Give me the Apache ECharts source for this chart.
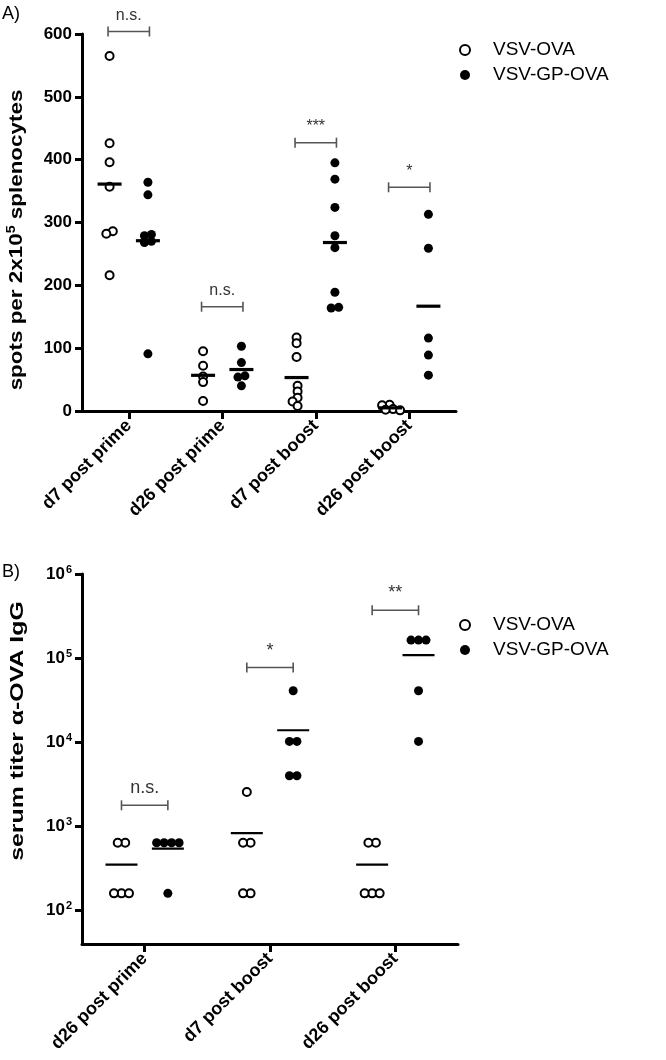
<!DOCTYPE html>
<html><head><meta charset="utf-8">
<script src="https://cdn.jsdelivr.net/npm/echarts@6/dist/echarts.min.js"></script>
<style>html,body{margin:0;padding:0;background:#fff}#c{width:666px;height:1060px}</style>
</head><body><div id="c"></div>
<script>
// ---------- data ----------
const seriesNames = ['VSV-OVA', 'VSV-GP-OVA'];
// Panel A: ELISpot
const catsA = ['d7 post prime', 'd26 post prime', 'd7 post boost', 'd26 post boost'];
const yTicksA = [0, 100, 200, 300, 400, 500, 600];
const ovaA = [[565, 426, 396, 357, 286, 282, 216], [95, 72, 55, 46, 16], [117, 108, 86, 40, 31, 21, 15, 8], [10, 9, 3, 2, 1]];
const gpA = [[364, 344, 281, 279, 270, 268, 91], [103, 77, 56, 54, 40], [395, 369, 324, 279, 260, 189, 165, 164], [313, 259, 116, 89, 57]];
const sigA = ['n.s.', 'n.s.', '***', '*'];
const sigLevelA = [604, 166, 427, 356];
// Panel B: serum titer
const catsB = ['d26 post prime', 'd7 post boost', 'd26 post boost'];
const yTicksB = [100, 1000, 10000, 100000, 1000000];
const ovaB = [[640, 640, 160, 160, 160], [2560, 640, 640, 160, 160], [640, 640, 160, 160, 160]];
const gpB = [[640, 640, 640, 640, 160], [40960, 10240, 10240, 4000, 4000], [163840, 163840, 163840, 40960, 10240]];
const sigB = ['n.s.', '*', '**'];
const sigLevelB = [1780, 77300, 370500];

// ---------- helpers ----------
const FONT = 'Liberation Sans, Arial, Helvetica, sans-serif';
const offA = 0.205, offB = 0.185;
const SYM = 8, SYMF = 9;
const mean = a => a.reduce((s, v) => s + v, 0) / a.length;

function swarm(vals, toPy, size) {
  const pts = vals.map(v => ({ py: toPy(v), dx: 0 }));
  const order = pts.slice().sort((a, b) => a.py - b.py);
  const ax = size * 0.8, ay = size * 0.55;
  const placed = [];
  const hit = (dx, p) => placed.some(q => ((dx - q.dx) / ax) ** 2 + ((p.py - q.py) / ay) ** 2 < 1);
  for (const p of order) {
    for (let k = 0; k < 400; k++) {
      const cand = (k % 2 === 1 ? -1 : 1) * Math.ceil(k / 2) * 0.5;
      if (!hit(cand, p)) { p.dx = cand; break; }
    }
    placed.push(p);
  }
  const n = pts.length, par = [...Array(n).keys()];
  const find = i => par[i] === i ? i : (par[i] = find(par[i]));
  for (let i = 0; i < n; i++) for (let j = i + 1; j < n; j++) {
    const d = Math.hypot(pts[i].dx - pts[j].dx, pts[i].py - pts[j].py);
    if (d < size * 1.05) par[find(i)] = find(j);
  }
  const groups = {};
  pts.forEach((p, i) => { (groups[find(i)] = groups[find(i)] || []).push(p); });
  Object.values(groups).forEach(g => { const m = mean(g.map(p => p.dx)); g.forEach(p => p.dx -= m); });
  return pts.map(p => p.dx);
}

function buildPoints(groups, sign, off, dxs) {
  const out = [];
  groups.forEach((vals, i) => vals.forEach((v, j) => {
    out.push([i + sign * off + (dxs ? dxs[i][j] : 0), v]);
  }));
  return out;
}

function meanData(ova, gp, off) {
  const out = [];
  ova.forEach((v, i) => out.push([i - off, mean(v)]));
  gp.forEach((v, i) => out.push([i + off, mean(v)]));
  return out;
}

function meanRender(hw, lw) {
  return (params, api) => {
    const c = api.coord([api.value(0), api.value(1)]);
    return { type: 'line', shape: { x1: c[0] - hw, y1: c[1], x2: c[0] + hw, y2: c[1] }, style: { stroke: '#000', lineWidth: lw } };
  };
}

function bracketRender(off, labels, fs) {
  return (params, api) => {
    const i = api.value(0), lv = api.value(1);
    const l = api.coord([i - off, lv]), r = api.coord([i + off, lv]);
    const st = { stroke: '#555', lineWidth: 1.6 };
    return {
      type: 'group', children: [
        { type: 'line', shape: { x1: l[0], y1: l[1], x2: r[0], y2: r[1] }, style: st },
        { type: 'line', shape: { x1: l[0], y1: l[1] - 5, x2: l[0], y2: l[1] + 5 }, style: st },
        { type: 'line', shape: { x1: r[0], y1: r[1] - 5, x2: r[0], y2: r[1] + 5 }, style: st },
        { type: 'text', x: (l[0] + r[0]) / 2, y: l[1] - 8, style: { text: labels[params.dataIndex], fill: '#333', font: fs + 'px ' + FONT, align: 'center', verticalAlign: 'bottom' } }
      ]
    };
  };
}

const openStyle = { color: '#fff', borderColor: '#000', borderWidth: 2, opacity: 1 };
const fillStyle = { color: '#000', borderColor: '#000', borderWidth: 0, opacity: 1 };
const axLine = { show: true, onZero: false, lineStyle: { color: '#000', width: 3 } };
const axTick = (len) => ({ show: true, length: len, lineStyle: { color: '#000', width: 3 } });
const catLabel = { rotate: 45, fontSize: 18, fontWeight: 'bold', color: '#000', fontFamily: FONT, margin: 12, interval: 0 };
const legendData = [
  { name: seriesNames[0], icon: 'circle', itemStyle: { color: '#fff', borderColor: '#000', borderWidth: 2 } },
  { name: seriesNames[1], icon: 'circle', itemStyle: { color: '#000', borderWidth: 0 } }
];
const legendCommon = {
  orient: 'vertical', left: 454, itemWidth: 46, itemHeight: 10, itemGap: 5, selectedMode: false,
  textStyle: { fontSize: 19, color: '#000', fontFamily: FONT, lineHeight: 20, padding: [0, 0, 0, 0] },
  data: legendData
};

const option = {
  animation: false,
  backgroundColor: '#fff',
  grid: [
    { left: 82, right: 210, top: 34, bottom: 649 },
    { left: 82, right: 208, top: 574, bottom: 116 }
  ],
  legend: [
    Object.assign({ top: 35 }, legendCommon),
    Object.assign({ top: 610 }, legendCommon)
  ],
  xAxis: [
    { gridIndex: 0, type: 'category', data: catsA, boundaryGap: true, axisLine: axLine, axisTick: Object.assign({ alignWithLabel: true }, axTick(8)), axisLabel: catLabel, splitLine: { show: false } },
    { gridIndex: 0, type: 'value', min: -0.5, max: 3.5, show: false },
    { gridIndex: 1, type: 'category', data: catsB, boundaryGap: true, axisLine: axLine, axisTick: Object.assign({ alignWithLabel: true }, axTick(8)), axisLabel: catLabel, splitLine: { show: false } },
    { gridIndex: 1, type: 'value', min: -0.5, max: 2.5, show: false }
  ],
  yAxis: [
    { gridIndex: 0, type: 'value', min: yTicksA[0], max: yTicksA[yTicksA.length - 1], interval: 100,
      axisLine: axLine, axisTick: axTick(7), splitLine: { show: false },
      axisLabel: { fontSize: 17, fontWeight: 'bold', color: '#000', fontFamily: FONT, margin: 10 } },
    { gridIndex: 1, type: 'log', logBase: 10, min: 40, max: 1000000,
      axisLine: axLine, axisTick: Object.assign({ customValues: yTicksB }, axTick(7)), splitLine: { show: false }, minorTick: { show: false },
      axisLabel: { customValues: yTicksB, margin: 10,
        formatter: v => '{b|10}{s|' + Math.round(Math.log10(v)) + '}',
        rich: { b: { fontSize: 17, fontWeight: 'bold', color: '#000', fontFamily: FONT }, s: { fontSize: 11, fontWeight: 'bold', color: '#000', fontFamily: FONT, verticalAlign: 'top', padding: [0, 0, 9, 1] } } } }
  ],
  graphic: [
    { type: 'text', x: 2, y: 5, style: { text: 'A)', font: '18px ' + FONT, fill: '#000' } },
    { type: 'text', x: 2, y: 563, style: { text: 'B)', font: '18px ' + FONT, fill: '#000' } },
    { type: 'text', x: 17, y: 240, rotation: Math.PI / 2, scaleX: 1.18,
      style: { text: '{t|spots per 2x10}{s|5}{t| splenocytes}', align: 'center', verticalAlign: 'middle',
        rich: { t: { fontSize: 19, fontWeight: 'bold', fill: '#000', fontFamily: FONT }, s: { fontSize: 12, fontWeight: 'bold', fill: '#000', fontFamily: FONT, padding: [0, 0, 10, 0] } } } },
    { type: 'text', x: 18, y: 731, rotation: Math.PI / 2, scaleX: 1.31,
      style: { text: 'serum titer α-OVA IgG', align: 'center', verticalAlign: 'middle', font: 'bold 19px ' + FONT, fill: '#000' } }
  ],
  series: [
    { id: 'aOva', name: seriesNames[0], type: 'scatter', xAxisIndex: 1, yAxisIndex: 0, symbol: 'circle', symbolSize: SYM, itemStyle: openStyle, data: buildPoints(ovaA, -1, offA), z: 3 },
    { id: 'aGp', name: seriesNames[1], type: 'scatter', xAxisIndex: 1, yAxisIndex: 0, symbol: 'circle', symbolSize: SYMF, itemStyle: fillStyle, data: buildPoints(gpA, 1, offA), z: 3 },
    { id: 'bOva', name: seriesNames[0], type: 'scatter', xAxisIndex: 3, yAxisIndex: 1, symbol: 'circle', symbolSize: SYM, itemStyle: openStyle, data: buildPoints(ovaB, -1, offB), z: 3 },
    { id: 'bGp', name: seriesNames[1], type: 'scatter', xAxisIndex: 3, yAxisIndex: 1, symbol: 'circle', symbolSize: SYMF, itemStyle: fillStyle, data: buildPoints(gpB, 1, offB), z: 3 },
    { id: 'aMean', type: 'custom', xAxisIndex: 1, yAxisIndex: 0, renderItem: meanRender(12, 3.2), data: meanData(ovaA, gpA, offA), z: 4, silent: true },
    { id: 'bMean', type: 'custom', xAxisIndex: 3, yAxisIndex: 1, renderItem: meanRender(16, 2.2), data: meanData(ovaB, gpB, offB), z: 4, silent: true },
    { id: 'aSig', type: 'custom', xAxisIndex: 1, yAxisIndex: 0, renderItem: bracketRender(offA * 1.08, sigA, 16), data: sigLevelA.map((v, i) => [i, v]), z: 4, silent: true },
    { id: 'bSig', type: 'custom', xAxisIndex: 3, yAxisIndex: 1, renderItem: bracketRender(offB, sigB, 18), data: sigLevelB.map((v, i) => [i, v]), z: 4, silent: true }
  ]
};

const chart = echarts.init(document.getElementById('c'), null, { renderer: 'canvas' });
chart.setOption(option);

// second pass: spread overlapping points horizontally (beeswarm) using the axes' pixel scales
function spread(groups, xIdx, yIdx, size) {
  const pxPerUnit = chart.convertToPixel({ xAxisIndex: xIdx }, 1) - chart.convertToPixel({ xAxisIndex: xIdx }, 0);
  const toPy = v => chart.convertToPixel({ yAxisIndex: yIdx }, v);
  return groups.map(vals => swarm(vals, toPy, size).map(d => d / pxPerUnit));
}
chart.setOption({
  series: [
    { id: 'aOva', data: buildPoints(ovaA, -1, offA, spread(ovaA, 1, 0, 9)) },
    { id: 'aGp', data: buildPoints(gpA, 1, offA, spread(gpA, 1, 0, 9)) },
    { id: 'bOva', data: buildPoints(ovaB, -1, offB, spread(ovaB, 3, 1, 9)) },
    { id: 'bGp', data: buildPoints(gpB, 1, offB, spread(gpB, 3, 1, 9)) }
  ]
});
</script>
</body></html>
